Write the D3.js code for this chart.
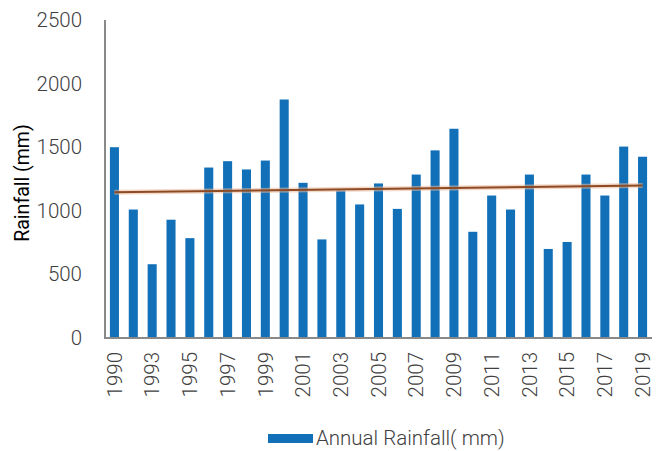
<!DOCTYPE html>
<html>
<head>
<meta charset="utf-8">
<script src="https://cdn.jsdelivr.net/npm/d3@7"></script>
<style>
  html, body { margin: 0; padding: 0; background: #fff; }
  svg { display: block; font-family: Roboto, "Noto Sans", sans-serif; }
</style>
</head>
<body>
<svg id="chart" width="661" height="451"></svg>
<script>
// Annual rainfall, 1990–2019
const years = ["1990","1991","1993","1994","1995","1996","1997","1998","1999","2000",
               "2001","2002","2003","2004","2005","2006","2007","2008","2009","2010",
               "2011","2012","2013","2014","2015","2016","2017","2018","2019"];
const rainfall = [1500,1010,580,930,785,1340,1390,1325,1395,1875,
                  1220,775,1160,1050,1215,1015,1285,1475,1645,835,
                  1120,1010,1285,700,755,1285,1120,1505,1425];
const yTicks = [0, 500, 1000, 1500, 2000, 2500];
const seriesName = "Annual Rainfall( mm)";
const yTitle = "Rainfall (mm)";

const svg = d3.select("#chart");
const plotL = 105, plotR = 652, plotT = 20, plotB = 338;
const tickFont = 20.5;

const x = d3.scaleBand().domain(years).range([plotL, plotR])
  .paddingInner(0.52).paddingOuter(0.26);
const y = d3.scaleLinear().domain([0, 2500]).range([plotB, plotT]);

// bars
svg.append("g").selectAll("rect").data(rainfall).join("rect")
  .attr("x", (d, i) => x(years[i]))
  .attr("y", d => y(d))
  .attr("width", x.bandwidth())
  .attr("height", d => y(0) - y(d))
  .attr("fill", "#1170b8");

// linear trend (least squares over category index)
const n = rainfall.length;
const xs = d3.range(n);
const mx = d3.mean(xs), my = d3.mean(rainfall);
const slope = d3.sum(xs, (v, i) => (v - mx) * (rainfall[i] - my)) / d3.sum(xs, v => (v - mx) ** 2);
const icpt = my - slope * mx;
const trendPts = [0, n - 1].map(i => [x(years[i]) + x.bandwidth() / 2, y(icpt + slope * i)]);
const line = d3.line();
svg.append("path").attr("d", line(trendPts))
  .attr("stroke", "#e9b99c").attr("stroke-opacity", 0.55).attr("stroke-width", 5).attr("fill", "none");
svg.append("path").attr("d", line(trendPts))
  .attr("stroke", "#8e4a23").attr("stroke-width", 2).attr("fill", "none");

// axes
const yAxis = svg.append("g").attr("transform", `translate(${plotL},0)`)
  .call(d3.axisLeft(y).tickValues(yTicks).tickFormat(d3.format("d")).tickSize(0).tickPadding(23));
yAxis.select(".domain").remove();
yAxis.selectAll("text").attr("font-size", tickFont).attr("font-weight", 300)
  .attr("fill", "#404040").attr("font-family", "Roboto");

const xAxis = svg.append("g").attr("transform", `translate(0,${plotB})`)
  .call(d3.axisBottom(x).tickValues(years.filter((d, i) => i % 2 === 0)).tickSize(0));
xAxis.select(".domain").remove();
xAxis.selectAll("text")
  .attr("font-size", tickFont).attr("font-weight", 300).attr("fill", "#404040")
  .attr("font-family", "Roboto")
  .attr("transform", "rotate(-90)")
  .attr("text-anchor", "end")
  .attr("x", -14).attr("y", 0).attr("dy", "0.35em");

svg.append("line").attr("x1", plotL).attr("x2", plotL).attr("y1", plotT).attr("y2", plotB + 1)
  .attr("stroke", "#898989").attr("stroke-width", 2);
svg.append("line").attr("x1", plotL - 1).attr("x2", plotR).attr("y1", plotB).attr("y2", plotB)
  .attr("stroke", "#898989").attr("stroke-width", 2);

// axis title
svg.append("text")
  .attr("transform", `translate(29,183) rotate(-90)`)
  .attr("text-anchor", "middle")
  .attr("font-size", 19.5).attr("fill", "#000")
  .text(yTitle);

// legend
const lg = svg.append("g");
lg.append("rect").attr("x", 268).attr("y", 434).attr("width", 45).attr("height", 9).attr("fill", "#1170b8");
lg.append("text").attr("x", 316).attr("y", 445)
  .attr("font-size", tickFont).attr("font-weight", 300).attr("fill", "#404040")
  .text(seriesName);
</script>
</body>
</html>
